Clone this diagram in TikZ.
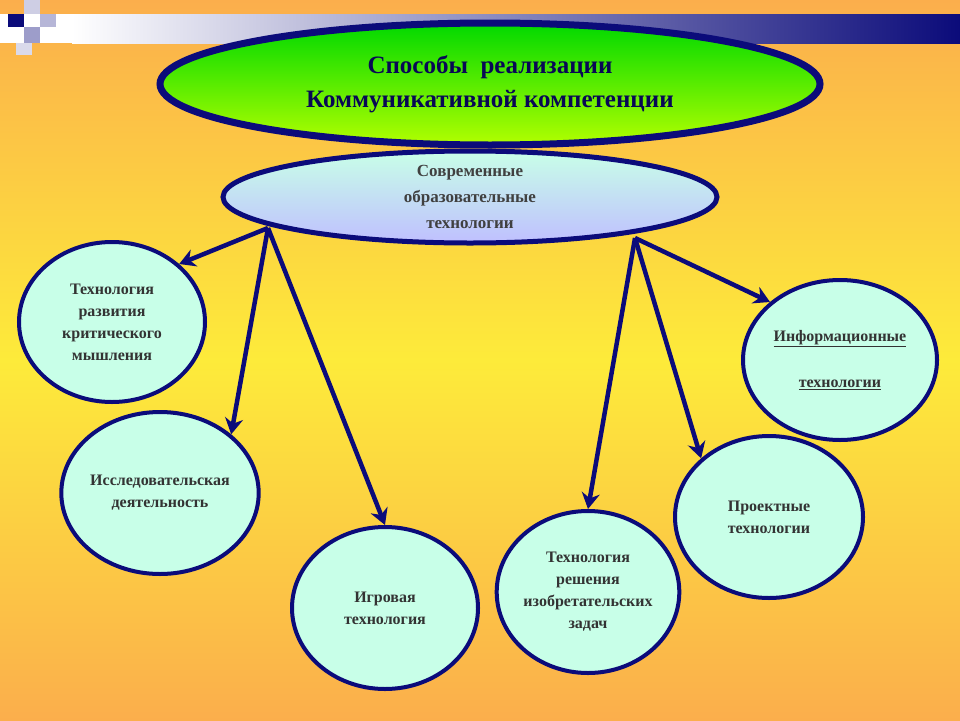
\documentclass[tikz,border=0pt]{standalone}
\usepackage{fontspec}
\setmainfont{Liberation Serif}
\usetikzlibrary{shapes.geometric,arrows.meta,positioning}
\definecolor{navy}{HTML}{0B0B7A}
\definecolor{orng}{HTML}{FBAE4C}
\definecolor{ylw}{HTML}{FDEB3A}
\definecolor{aqua}{HTML}{C8FFE8}
\tikzset{
  way/.style={ellipse, draw=navy, line width=4pt, fill=aqua, align=center, inner sep=0pt,
    font=\bfseries\fontsize{16}{22}\selectfont, text=black!80},
  link/.style={draw=navy, line width=4.5pt, -{Stealth[length=16pt,width=18pt]}},
}
\begin{document}
\begin{tikzpicture}[x=1pt,y=-1pt]
  \useasboundingbox (0,0) rectangle (960,720);
  % background
  \shade[top color=orng, bottom color=ylw] (0,0) rectangle (960,360);
  \shade[top color=ylw, bottom color=orng] (0,360) rectangle (960,720);
  \shade[left color=white, right color=navy] (72,14) rectangle (960,43);
  \fill[white] (0,14) rectangle (72,43);
  \fill[navy] (8,14) rectangle (24,27);
  \fill[white!80!navy] (24,0) rectangle (40,14);
  \fill[white!60!navy] (24,27) rectangle (40,43);
  \fill[white!70!navy] (40,14) rectangle (56,27);
  \fill[white!85!navy] (16,43) rectangle (32,55);

  \node[ellipse, draw=navy, line width=7pt, minimum width=660pt, minimum height=122pt,
    top color=green!85!black, bottom color=yellow!70!green, align=center,
    text=navy!70!black, font=\bfseries\fontsize{25}{34}\selectfont] (title) at (490,84)
    {Способы \ реализации\\Коммуникативной компетенции};
  \node[ellipse, draw=navy, line width=5pt, minimum width=494pt, minimum height=92pt,
    top color=aqua, bottom color=blue!25, align=center, text=black!75, inner sep=0pt,
    font=\bfseries\fontsize{17}{26}\selectfont] (tech) at (470,197)
    {Современные\\образовательные\\технологии};

  \node[way, minimum width=186pt, minimum height=160pt] (crit) at (112,322)
    {Технология\\развития\\критического\\мышления};
  \node[way, minimum width=188pt, minimum height=162pt] (res) at (160,493)
    {Исследовательская\\деятельность};
  \node[way, minimum width=186pt, minimum height=162pt] (game) at (385,608)
    {Игровая\\технология};
  \node[way, minimum width=176pt, minimum height=162pt] (triz) at (588,592)
    {Технология\\решения\\изобретательских\\задач};
  \node[way, minimum width=194pt, minimum height=160pt, font=\bfseries\fontsize{16}{46}\selectfont] (info) at (840,360)
    {\underline{Информационные}\\\underline{технологии}};
  \node[way, minimum width=188pt, minimum height=162pt] (proj) at (769,517)
    {Проектные\\технологии};

  \coordinate (left) at (268,228);
  \coordinate (right) at (635,238);
  \draw[link] (left) -- (crit.north east);
  \draw[link] (left) -- (res.north east);
  \draw[link] (left) -- (game.north);
  \draw[link] (right) -- (info.north west);
  \draw[link] (right) -- (triz.north);
  \draw[link] (right) -- (proj.north west);
\end{tikzpicture}
\end{document}
